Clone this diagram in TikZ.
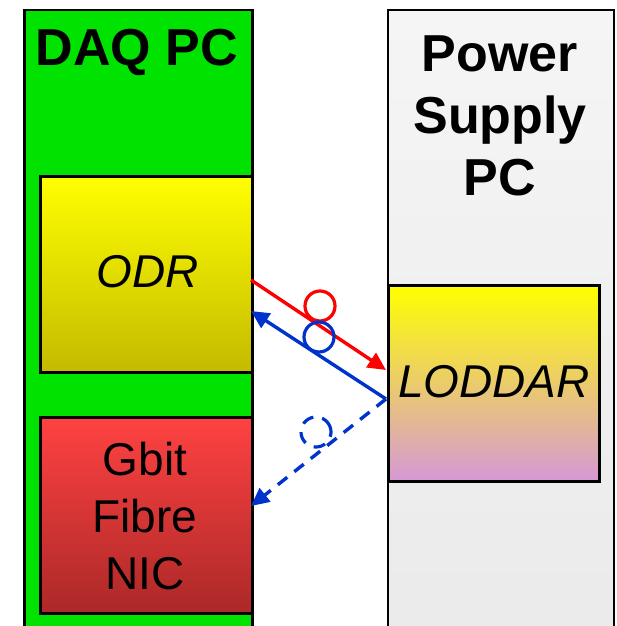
\documentclass[tikz,border=0pt]{standalone}
\usepackage{fontspec}
\setmainfont{Liberation Sans}
\usetikzlibrary{arrows.meta}

\definecolor{daqgreen}{RGB}{0,226,0}
\definecolor{pstop}{RGB}{245,245,245}
\definecolor{psbot}{RGB}{234,234,234}
\definecolor{odrtop}{RGB}{255,255,0}
\definecolor{odrbot}{RGB}{196,186,0}
\definecolor{nictop}{RGB}{255,66,66}
\definecolor{nicbot}{RGB}{172,40,40}
\definecolor{lodbot}{RGB}{214,152,214}
\definecolor{linkred}{RGB}{255,0,0}
\definecolor{linkblue}{RGB}{0,51,204}

\tikzset{
  pcbox/.style={draw=black, line width=2.5pt, rectangle, inner sep=0pt, anchor=north west},
  ring/.style={circle, draw, line width=3.2pt, minimum size=30pt, inner sep=0pt},
  link/.style={line width=3.4pt, -{Triangle[length=18pt,width=17pt]}},
  bigtitle/.style={font=\fontsize{52}{62}\selectfont\bfseries, align=center},
  boxtext/.style={font=\fontsize{46}{57}\selectfont, align=center},
}

\begin{document}
\begin{tikzpicture}[x=1pt, y=1pt]
  \useasboundingbox (0,0) rectangle (616,-626);
  % hosts
  \node[pcbox, fill=daqgreen, minimum width=228pt, minimum height=650pt] (daq) at (23,-9) {};
  \node[pcbox, line width=2pt, top color=pstop, bottom color=psbot,
        minimum width=226pt, minimum height=650pt] (ps) at (387,-9) {};
  \node[bigtitle] (daqname) at (137,-52) {DAQ PC};
  \node[bigtitle] (psname) at (500,-116) {Power\\Supply\\PC};
  % inner boxes
  \node[pcbox, top color=odrtop, bottom color=odrbot, minimum width=212pt, minimum height=196pt] (odr) at (39,-175) {};
  \node[boxtext, font=\fontsize{46}{57}\selectfont\itshape] (odrname) at (148,-272) {ODR};
  \node[pcbox, top color=odrtop, bottom color=lodbot, minimum width=211pt, minimum height=196pt] (lod) at (387,-284) {};
  \node[boxtext, font=\fontsize{46}{57}\selectfont\itshape] (lodname) at (494,-382) {LODDAR};
  \node[pcbox, top color=nictop, bottom color=nicbot, minimum width=212pt, minimum height=196pt] (nic) at (39,-416) {};
  \node[boxtext] (nicname) at (145,-516) {Gbit\\Fibre\\NIC};
  % link ends
  \coordinate (odrout) at (251,-280);
  \coordinate (lodin) at (386,-370);
  \coordinate (lodout) at (386,-399);
  \coordinate (odrin) at (251,-311);
  \coordinate (nicin) at (251,-506);
  % links
  \draw[link, linkred] (odrout) -- (lodin);
  \draw[link, linkblue] (lodout) -- (odrin);
  \draw[link, linkblue, dash pattern=on 12pt off 9pt] (lodout) -- (nicin);
  \node[ring, draw=linkred] (redring) at (320,-306) {};
  \node[ring, draw=linkblue] (bluering) at (319,-337) {};
  \node[ring, draw=linkblue, dash pattern=on 12pt off 9pt, rotate=20] (dashring) at (316,-432) {};
\end{tikzpicture}
\end{document}
